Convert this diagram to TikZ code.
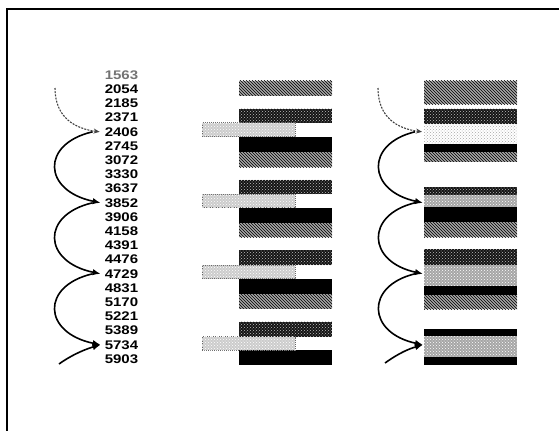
\documentclass[tikz,border=0pt]{standalone}
\usepackage{fontspec}
\newfontfamily\numfont[FakeStretch=1.2]{Liberation Sans}
\usetikzlibrary{arrows.meta,patterns,calc,positioning}

\tikzset{
  num/.style={font=\numfont\bfseries\fontsize{12.5}{12.5}\selectfont, inner sep=0pt},
  bar/.style={rectangle, inner sep=0pt, outer sep=0pt, anchor=north west, minimum width=93},
  hatchbar/.style={bar, fill=gray!70, postaction={pattern=north west lines, pattern color=black}},
  darkbar/.style={bar, fill=black!92, postaction={pattern=crosshatch dots, pattern color=gray!50}},
  lightbar/.style={bar, fill=gray!40, postaction={pattern=crosshatch dots, pattern color=white}, draw=black!60, densely dotted, line width=1pt},
  palebar/.style={bar, fill=white, postaction={pattern=crosshatch dots, pattern color=gray!70}},
  midbar/.style={bar, fill=gray!70, postaction={pattern=crosshatch dots, pattern color=white}},
  blackbar/.style={bar, fill=black},
  arc/.style={line width=1.6pt, -{Latex[length=8pt,width=6.5pt]}},
  feed/.style={line width=1.1pt, dash pattern=on 2pt off 1.2pt, gray!50!black, -{Stealth[length=6pt,width=5pt]}},
}

\begin{document}
\begin{tikzpicture}[x=1pt, y=-1pt]
\useasboundingbox (0,0) rectangle (559,431);
\draw[line width=1.5pt] (559,9) -- (7,9) -- (7,431);

% address column
\node[num, text=black!55] (n0) at (121.5,75) {1563};
\foreach \v [count=\i] in {2054,2185,2371,2406,2745,3072,3330,3637,3852,3906,4158,4391,4476,4729,4831,5170,5221,5389,5734,5903}
  \node[num] (n\i) at (121.5,{75+14.2*\i}) {\v};

% middle column
\foreach \t/\h/\s/\n in {80.5/15/hatchbar/m1, 108.5/14/darkbar/m2, 136.5/15.5/blackbar/m3, 152/15/hatchbar/m4,
    179.5/14.5/darkbar/m5, 207.5/15.5/blackbar/m6, 223/14/hatchbar/m7,
    250/15/darkbar/m8, 278.5/15/blackbar/m9, 293.5/15/hatchbar/m10,
    321.5/15/darkbar/m11, 350/15/blackbar/m12}
  \node[\s, minimum height=\h] (\n) at (239,\t) {};
\foreach \t/\h/\n in {122.5/14/mL1, 194/13.5/mL2, 265/13.5/mL3, 336.5/13.5/mL4}
  \node[lightbar, minimum height=\h] (\n) at (202,\t) {};

% right column
\foreach \t/\h/\s/\n in {80.5/23.5/hatchbar/r1, 108.5/15/darkbar/r2, 123.5/20/palebar/rL1, 143.5/8.5/blackbar/r3, 152/9.5/hatchbar/r4,
    187/7.5/darkbar/r5, 194.5/12.5/midbar/rL2, 207/15/blackbar/r6, 222/15/hatchbar/r7,
    249/16/darkbar/r8, 265/21/midbar/rL3, 286/8.5/blackbar/r9, 294.5/14.5/hatchbar/r10,
    328.5/7.5/blackbar/r11, 336/21/midbar/rL4, 357/8/blackbar/r12}
  \node[\s, minimum height=\h] (\n) at (424,\t) {};

% left arrows
\coordinate (lt) at (55,88);
\coordinate (lb) at (59,364);
\draw[feed] (lt) .. controls +(0,30) and +(-24,-3) .. ([xshift=-5pt]n4.west);
\foreach \a/\b in {4/9,9/14,14/19}
  \draw[arc] ([xshift=-12pt]n\a.west) .. controls +(-52,12) and +(-58,-12) .. ([xshift=-4pt]n\b.west);
\draw[arc] (lb) .. controls +(14,-10) and +(-14,4) .. ([xshift=-4pt]n19.west);

% right arrows
\coordinate (rt) at (378,88);
\coordinate (rb) at (385,363);
\draw[feed] (rt) .. controls +(0,30) and +(-24,-3) .. ($(rL1.west |- n4)+(-2,0)$);
\foreach \a/\b/\p/\q in {4/9/rL1/rL2, 9/14/rL2/rL3, 14/19/rL3/rL4}
  \draw[arc] ($(\p.west |- n\a)+(-9,0)$) .. controls +(-50,12) and +(-56,-12) .. ($(\q.west |- n\b)+(-1,0)$);
\draw[arc] (rb) .. controls +(14,-10) and +(-14,4) .. ($(rL4.west |- n19)+(-1,0)$);
\end{tikzpicture}
\end{document}
